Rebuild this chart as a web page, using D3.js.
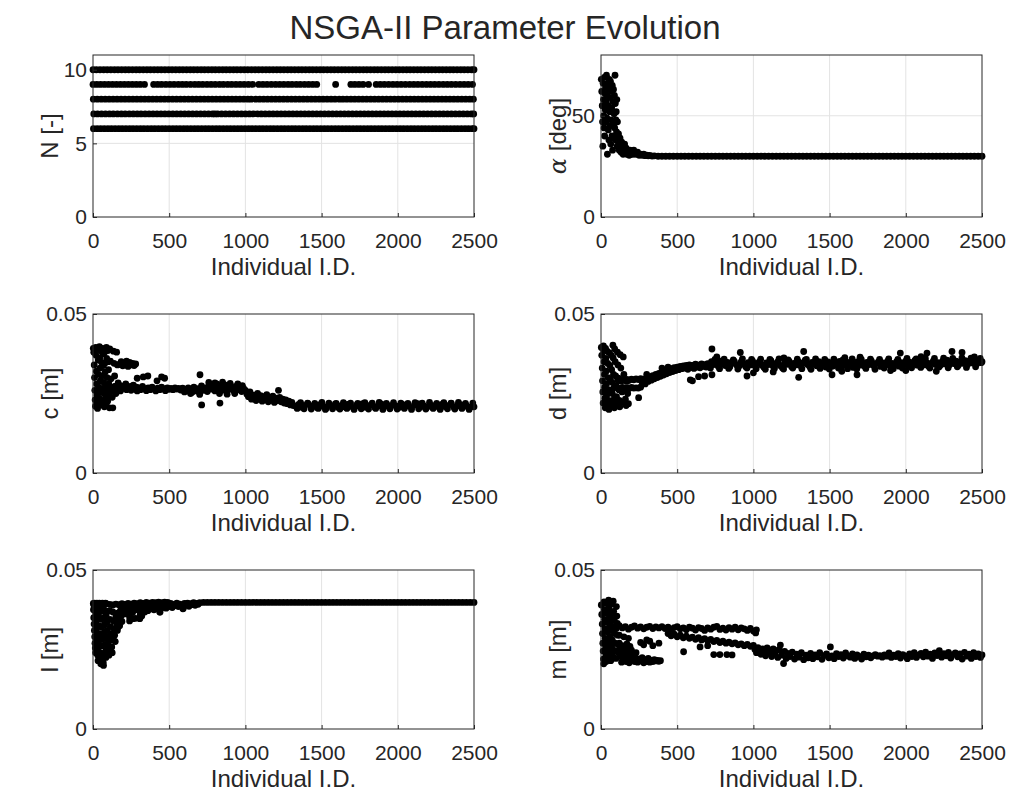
<!DOCTYPE html>
<html>
<head>
<meta charset="utf-8">
<script src="https://cdn.jsdelivr.net/npm/d3@7"></script>
<style>
body { margin: 0; background: #fff; }
svg { display: block; }
text { font-family: "Liberation Sans", Arial, sans-serif; fill: #262626; }
</style>
</head>
<body>
<div id="chart"></div>
<script>
// ejes comunes
const xTicks = [0, 500, 1000, 1500, 2000, 2500];
const nTicks = [0, 5, 10];
const alphaTicks = [0, 50];
const lenTicks = [0, 0.05];

// N [-]: individuos (I.D.) por nivel
const nLevel10 = [0,22,46,70,93,117,141,164,188,212,235,259,283,306,330,354,377,401,425,448,472,496,519,543,567,590,614,638,661,685,709,732,756,780,803,827,851,874,898,922,945,969,993,1016,1040,1064,1087,1111,1135,1158,1182,1206,1229,1253,1277,1300,1324,1348,1371,1395,1419,1442,1466,1490,1513,1537,1561,1584,1608,1632,1655,1679,1703,1726,1750,1774,1797,1821,1845,1868,1892,1916,1939,1963,1987,2010,2034,2058,2081,2105,2129,2152,2176,2200,2223,2247,2271,2294,2318,2342,2365,2389,2413,2436,2460,2484,2500];
const nLevel9 = [0,25,50,76,102,128,154,180,206,232,258,284,310,338,398,424,450,478,505,532,560,586,612,640,668,694,720,748,775,802,830,856,884,910,938,965,992,1020,1048,1088,1115,1142,1170,1198,1225,1252,1280,1306,1334,1360,1388,1415,1442,1468,1592,1692,1718,1745,1772,1808,1858,1885,1912,1940,1968,1995,2022,2050,2078,2105,2132,2160,2188,2215,2242,2270,2298,2325,2352,2380,2408,2435,2462,2490];
const nLevel8 = [2,28,54,80,106,132,158,184,210,236,262,288,314,340,366,392,418,444,470,496,522,548,574,600,626,652,678,704,730,756,782,808,834,860,886,912,938,964,990,1016,1038,1068,1094,1120,1146,1172,1198,1224,1250,1276,1302,1328,1354,1380,1406,1432,1458,1484,1510,1536,1562,1588,1616,1640,1666,1692,1718,1744,1770,1796,1822,1848,1874,1900,1926,1952,1978,2004,2030,2056,2082,2108,2134,2160,2186,2212,2238,2264,2290,2316,2342,2368,2394,2420,2446,2472,2496];
const nLevel7 = [5,30,56,82,108,133,160,186,211,238,264,290,315,342,368,394,420,446,472,498,524,550,576,602,628,654,680,706,732,758,784,800,818,844,870,896,922,948,974,1000,1026,1052,1078,1104,1130,1156,1182,1208,1234,1260,1286,1312,1338,1364,1390,1416,1442,1468,1494,1520,1546,1572,1598,1624,1650,1676,1702,1728,1754,1780,1806,1832,1858,1884,1910,1936,1962,1988,2014,2040,2066,2092,2118,2144,2170,2196,2222,2248,2274,2300,2326,2352,2378,2404,2430,2456,2482,2498];
const nLevel6 = [3,27,50,74,98,121,145,169,192,216,240,263,287,311,334,358,382,405,429,453,476,500,524,547,571,595,618,642,666,689,713,737,760,784,808,831,855,879,902,926,950,973,997,1021,1044,1068,1092,1115,1139,1163,1186,1210,1234,1257,1281,1305,1328,1352,1376,1399,1423,1447,1470,1494,1518,1541,1565,1589,1612,1636,1660,1683,1707,1731,1754,1778,1802,1825,1849,1873,1896,1920,1944,1967,1991,2015,2038,2062,2086,2109,2133,2157,2180,2204,2228,2251,2275,2299,2322,2346,2370,2393,2417,2441,2464,2488,2500];

// alpha [deg]
const alphaPts = [[2,68],[5,62],[8,55],[10,47],[12,35],[14,66],[16,58],[18,50],[20,44],[22,69],[24,40],[26,61],[28,53],[30,64],[32,47],[34,57],[36,70],[38,49],[40,60],[42,31],[44,66],[46,55],[48,43],[50,63],[52,38],[54,68],[56,52],[58,45],[60,59],[62,67],[64,36],[66,48],[68,62],[70,54],[72,40],[74,65],[76,33],[78,57],[80,46],[82,63],[84,39],[86,51],[88,60],[90,44],[92,70],[94,56],[96,38],[98,48],[100,52],[102,42],[104,58],[106,35],[108,47],[110,40],
[112,38],[115,41],[118,36],[120,33],[125,39],[128,35],[132,32],[136,37],[140,34],[145,31],[150,33],[155,36],[160,32],[165,34],[170,31],[175,33],[180,32],[185,30.5],[190,33],[195,31],[200,32],[210,31],[215,33],[220,31.5],[230,31],[240,32],[250,30.5],[260,31],[270,30.5],[280,31],[290,30.3],[300,30.6],[310,30.2],[320,30.4],[335,30.1],[350,30.2],
[375,30],[400,30],[425,30],[450,30],[475,30],[500,30],[525,30],[550,30],[575,30],[600,30],[625,30],[650,30],[675,30],[700,30],[725,30],[750,30],[775,30],[800,30],[825,30],[850,30],[875,30],[900,30],[925,30],[950,30],[975,30],[1000,30],[1025,30],[1050,30],[1075,30],[1100,30],[1125,30],[1150,30],[1175,30],[1200,30],[1225,30],[1250,30],[1275,30],[1300,30],[1325,30],[1350,30],[1375,30],[1400,30],[1425,30],[1450,30],[1475,30],[1500,30],[1525,30],[1550,30],[1575,30],[1600,30],[1625,30],[1650,30],[1675,30],[1700,30],[1725,30],[1750,30],[1775,30],[1800,30],[1825,30],[1850,30],[1875,30],[1900,30],[1925,30],[1950,30],[1975,30],[2000,30],[2025,30],[2050,30],[2075,30],[2100,30],[2125,30],[2150,30],[2175,30],[2200,30],[2225,30],[2250,30],[2275,30],[2300,30],[2325,30],[2350,30],[2375,30],[2400,30],[2425,30],[2450,30],[2475,30],[2500,30]];

// c [m]
const cPts = [[2,.0392],[5,.0380],[8,.0340],[10,.0300],[12,.0260],[14,.0230],[16,.0210],[18,.0395],[20,.0370],[22,.0320],[24,.0280],[26,.0245],[28,.0220],[30,.0203],[32,.0388],[34,.0355],[36,.0310],[38,.0270],[40,.0235],[42,.0397],[44,.0362],[46,.0330],[48,.0290],[50,.0255],[52,.0215],[54,.0384],[56,.0348],[58,.0305],[60,.0265],[62,.0228],[64,.0392],[66,.0375],[68,.0338],[70,.0285],[72,.0250],[74,.0208],[76,.0380],[78,.0345],[80,.0318],[82,.0275],[84,.0240],[86,.0212],[88,.0395],[90,.0360],[92,.0300],[94,.0262],[96,.0226],[98,.0385],[100,.0350],[102,.0325],[104,.0280],[106,.0243],[108,.0205],[110,.0390],[114,.0352],[118,.0296],[122,.0268],[126,.0238],[130,.0205],[134,.0383],[138,.0345],[142,.0305],[146,.0272],[150,.0250],[155,.0380],[160,.0340],[165,.0283],[170,.0262],[175,.0342],[180,.0275],[185,.0350],[190,.0268],[195,.0337],[200,.0345],[205,.0270],[210,.0340],[215,.0280],[220,.0352],[225,.0265],[230,.0335],[240,.0348],[245,.0272],[250,.0340],[260,.0345],[265,.0276],[270,.0338],[280,.0343],[285,.0270],
[95,.0268],[105,.0262],[115,.0270],[125,.0259],[135,.0265],[145,.0272],[160,.0263],[170,.0268],[180,.0258],[195,.0266],[210,.0271],[220,.0262],[235,.0267],[250,.0260],[262,.0270],[275,.0264],[290,.0258],[300,.0268],[312,.0262],[325,.0272],[338,.0265],[350,.0259],[362,.0268],[375,.0262],[388,.0270],[400,.0264],[412,.0258],[425,.0267],[438,.0262],[450,.0270],[462,.0265],[475,.0259],[488,.0268],[500,.0263],[512,.0266],[525,.0262],[538,.0268],[550,.0264],[562,.0266],[575,.0261],[588,.0267],[600,.0263],[612,.0258],[625,.0268],[638,.0262],[650,.0254],[662,.0270],[675,.0258],[688,.0265],[700,.0252],[712,.0274],[725,.0260],[738,.0268],[750,.0256],[762,.0278],[775,.0264],[788,.0272],[800,.0258],[812,.0280],[825,.0266],[838,.0274],[850,.0260],[862,.0278],[875,.0268],[888,.0262],[900,.0276],[912,.0265],[925,.0258],[938,.0272],[950,.0262],[962,.0270],[975,.0256],[988,.0266],[1000,.0260],
[290,.0298],[330,.0302],[360,.0305],[420,.0290],[450,.0302],[470,.0298],[702,.0309],[713,.0214],[833,.0220],[600,.0255],[640,.0250],[700,.0247],[760,.0285],[800,.0283],[850,.0286],[900,.0282],[950,.0280],[980,.0275],[830,.0250],[880,.0248],[930,.0250],
[1010,.0248],[1020,.0240],[1030,.0255],[1040,.0232],[1050,.0245],[1060,.0238],[1070,.0228],[1080,.0250],[1090,.0236],[1100,.0243],[1110,.0226],[1120,.0240],[1130,.0232],[1140,.0246],[1150,.0224],[1160,.0238],[1170,.0230],[1180,.0242],[1190,.0222],[1200,.0235],[1210,.0228],[1217,.0260],[1225,.0238],[1235,.0224],[1245,.0232],[1255,.0220],[1265,.0230],[1275,.0218],[1285,.0226],[1295,.0214],[1305,.0222],[1315,.0212],
[1330,.0210],[1350,.0216],[1370,.0207],[1390,.0212],[1410,.0218],[1430,.0208],[1450,.0213],[1470,.0206],[1490,.0215],[1510,.0210],[1530,.0204],[1550,.0214],[1570,.0209],[1590,.0217],[1610,.0206],[1630,.0212],[1650,.0208],[1670,.0216],[1690,.0210],[1710,.0205],[1730,.0213],[1750,.0209],[1770,.0218],[1790,.0207],[1810,.0212],[1830,.0215],[1850,.0206],[1870,.0211],[1890,.0217],[1910,.0208],[1930,.0213],[1950,.0205],[1970,.0215],[1990,.0210],[2010,.0207],[2030,.0216],[2050,.0209],[2070,.0212],[2090,.0205],[2110,.0214],[2130,.0218],[2150,.0208],[2170,.0211],[2190,.0206],[2210,.0215],[2230,.0210],[2250,.0213],[2270,.0207],[2290,.0216],[2310,.0209],[2330,.0212],[2350,.0219],[2370,.0206],[2390,.0211],[2410,.0215],[2430,.0208],[2450,.0212],[2470,.0206],[2490,.0210],[2500,.0208]];
const cTailEdge = [[1340,.0203],[1362,.0221],[1385,.0202],[1408,.0220],[1432,.0201],[1455,.0219],[1478,.0203],[1502,.0222],[1525,.0200],[1548,.0220],[1572,.0202],[1596,.0219],[1620,.0201],[1643,.0221],[1666,.0203],[1690,.0220],[1713,.0200],[1737,.0219],[1760,.0202],[1784,.0221],[1808,.0201],[1832,.0220],[1855,.0203],[1878,.0222],[1902,.0200],[1925,.0219],[1948,.0202],[1972,.0221],[1996,.0201],[2020,.0220],[2043,.0203],[2066,.0219],[2090,.0200],[2113,.0221],[2137,.0202],[2160,.0220],[2184,.0201],[2208,.0222],[2232,.0203],[2255,.0219],[2278,.0200],[2302,.0221],[2326,.0202],[2350,.0220],[2374,.0201],[2398,.0222],[2421,.0203],[2444,.0219],[2468,.0200],[2492,.0220]];

// d [m]
const dPts = [[2,.0395],[5,.0370],[8,.0330],[10,.0290],[12,.0255],[14,.0220],[16,.0400],[18,.0385],[20,.0350],[22,.0310],[24,.0270],[26,.0235],[28,.0205],[30,.0392],[32,.0360],[34,.0320],[36,.0280],[38,.0245],[40,.0212],[42,.0382],[44,.0345],[46,.0300],[48,.0262],[50,.0228],[52,.0200],[55,.0378],[58,.0338],[60,.0295],[62,.0258],[64,.0225],[66,.0208],[68,.0370],[70,.0325],[72,.0285],[74,.0250],[76,.0218],[78,.0402],[80,.0362],[82,.0310],[84,.0268],[86,.0232],[88,.0205],[90,.0390],[93,.0350],[96,.0305],[99,.0275],[102,.0240],[105,.0215],[108,.0380],[111,.0340],[114,.0298],[117,.0262],[120,.0228],[123,.0208],[126,.0372],[130,.0330],[134,.0290],[138,.0255],[142,.0222],[146,.0365],[150,.0310],[155,.0265],[160,.0232],[165,.0212],[170,.0288],[175,.0250],[180,.0218],
[110,.0292],[125,.0290],[140,.0293],[155,.0291],[170,.0294],[185,.0292],[200,.0295],[215,.0293],[230,.0296],[245,.0294],[260,.0297],[110,.0268],[125,.0266],[140,.0269],[155,.0267],[170,.0268],[185,.0266],[200,.0269],[215,.0267],[230,.0268],[245,.0267],[260,.0270],[247,.0237],
[270,.0285],[280,.0295],[290,.0280],[300,.0298],[310,.0288],[320,.0302],[330,.0292],[340,.0306],[350,.0296],[360,.0310],[370,.0300],[380,.0313],[390,.0304],[400,.0318],[410,.0308],[420,.0322],[430,.0312],[440,.0325],[450,.0316],[460,.0328],[470,.0319],[480,.0331],[490,.0322],[500,.0333],[510,.0325],[520,.0335],[530,.0328],[540,.0337],[550,.0330],[560,.0338],[570,.0326],[580,.0340],[590,.0332],[600,.0338],[610,.0329],[620,.0342],[630,.0333],[640,.0339],[650,.0331],[660,.0343],[670,.0335],[680,.0341],[690,.0333],[700,.0344],
[586,.0293],[600,.0290],[640,.0303],[680,.0305],[728,.0309],[728,.0390],[760,.0365],[300,.0310],[400,.0330],[440,.0333],
[710,.0336],[725,.0350],[740,.0341],[755,.0346],[770,.0335],[785,.0352],[800,.0343],[815,.0338],[830,.0348],[845,.0333],[860,.0345],[875,.0351],[890,.0340],[905,.0336],[920,.0349],[935,.0342],[950,.0334],[965,.0347],[980,.0340],[995,.0352],[1010,.0337],[1025,.0345],[1040,.0350],[1055,.0339],[1070,.0332],[1085,.0346],[1100,.0341],[1115,.0353],[1130,.0336],[1145,.0344],[1160,.0349],[1175,.0338],[1190,.0331],[1205,.0347],[1220,.0342],[1235,.0351],[1250,.0335],[1265,.0345],[1280,.0340],[1295,.0350],[1310,.0337],[1325,.0346],[1340,.0355],[1355,.0341],[1370,.0334],[1385,.0348],[1400,.0343],[1415,.0337],[1430,.0350],[1445,.0340],[1460,.0345],[1475,.0333],[1490,.0349],[1505,.0342],[1520,.0336],[1535,.0347],[1550,.0340],[1565,.0351],[1580,.0335],[1595,.0344],[1610,.0349],[1625,.0338],[1640,.0346],[1655,.0332],[1670,.0343],[1685,.0350],[1700,.0339],[1715,.0345],[1730,.0336],[1745,.0348],[1760,.0341],[1775,.0352],[1790,.0337],[1805,.0344],[1820,.0349],[1835,.0335],[1850,.0346],[1865,.0340],[1880,.0351],[1895,.0338],[1910,.0345],[1925,.0341],[1940,.0350],[1955,.0336],[1970,.0347],[1985,.0343],[2000,.0352],[2015,.0337],[2030,.0348],[2045,.0342],[2060,.0354],[2075,.0339],[2090,.0346],[2105,.0351],[2120,.0340],[2135,.0348],[2150,.0336],[2165,.0345],[2180,.0352],[2195,.0341],[2210,.0347],[2225,.0338],[2240,.0350],[2255,.0343],[2270,.0355],[2285,.0340],[2300,.0348],[2315,.0344],[2330,.0352],[2345,.0339],[2360,.0349],[2375,.0345],[2390,.0353],[2405,.0341],[2420,.0350],[2435,.0346],[2450,.0354],[2465,.0343],[2480,.0351],[2495,.0347],[2500,.0350],
[914,.0379],[958,.0305],[1297,.0301],[1330,.0382],[1516,.0309],[1680,.0309],[1964,.0377],[2139,.0377],[2303,.0382],[2369,.0379],[1000,.0315],[1130,.0318],[1580,.0320],[1900,.0322],[2000,.0322],[2200,.0320],[1200,.0362],[1600,.0363],[1700,.0364],[2100,.0366],[2450,.0365]];
const dTailEdge = [[718,.0330],[748,.0357],[778,.0328],[808,.0358],[838,.0329],[868,.0356],[898,.0327],[928,.0359],[958,.0330],[988,.0357],[1018,.0328],[1048,.0358],[1078,.0326],[1108,.0357],[1138,.0329],[1168,.0359],[1198,.0327],[1228,.0356],[1258,.0330],[1288,.0358],[1318,.0328],[1348,.0357],[1378,.0326],[1408,.0359],[1438,.0329],[1468,.0357],[1498,.0327],[1528,.0358],[1558,.0330],[1588,.0356],[1618,.0328],[1648,.0359],[1678,.0327],[1708,.0357],[1738,.0329],[1768,.0358],[1798,.0326],[1828,.0357],[1858,.0330],[1888,.0359],[1918,.0328],[1948,.0357],[1978,.0330],[2008,.0360],[2038,.0331],[2068,.0359],[2098,.0332],[2128,.0361],[2158,.0330],[2188,.0360],[2218,.0333],[2248,.0361],[2278,.0331],[2308,.0360],[2338,.0334],[2368,.0362],[2398,.0332],[2428,.0361],[2458,.0334],[2488,.0360]];

// l [m]
const lPts = [[2,.0395],[6,.0390],[10,.0396],[14,.0392],[18,.0395],[22,.0393],[26,.0396],[30,.0390],[34,.0395],[38,.0392],[42,.0396],[46,.0394],[50,.0390],[54,.0395],[58,.0392],[62,.0396],[66,.0393],[70,.0390],[74,.0395],[78,.0392],[82,.0396],[86,.0394],
[3,.0375],[5,.0350],[7,.0330],[9,.0310],[11,.0290],[13,.0270],[15,.0255],[17,.0240],[19,.0365],[21,.0340],[23,.0315],[25,.0295],[27,.0275],[29,.0250],[31,.0232],[33,.0215],[35,.0380],[37,.0355],[39,.0325],[41,.0300],[43,.0280],[45,.0260],[47,.0240],[49,.0222],[51,.0205],[53,.0370],[55,.0345],[57,.0320],[59,.0298],[61,.0282],[63,.0262],[65,.0235],[67,.0210],[69,.0200],[71,.0375],[73,.0350],[75,.0328],[77,.0305],[79,.0285],[81,.0265],[83,.0245],[85,.0225],[87,.0360],[90,.0335],[93,.0310],[96,.0290],[99,.0270],[102,.0250],[105,.0232],[108,.0372],[111,.0345],[114,.0322],[117,.0300],[120,.0280],[123,.0258],[126,.0240],[130,.0368],[134,.0340],[138,.0315],[142,.0295],[146,.0275],[150,.0352],[155,.0330],[160,.0310],[165,.0365],[170,.0345],[175,.0325],[180,.0372],[185,.0355],[190,.0338],[195,.0380],
[200,.0375],[210,.0362],[220,.0385],[230,.0370],[240,.0352],[250,.0380],[260,.0366],[270,.0388],[280,.0348],[290,.0375],[300,.0385],[310,.0360],[320,.0378],[330,.0390],[340,.0368],[350,.0382],[360,.0372],[370,.0388],[380,.0378],[390,.0392],[400,.0375],[410,.0386],[420,.0380],[430,.0392],[440,.0368],[450,.0388],[460,.0382],[470,.0394],[480,.0380],[490,.0390],[500,.0385],[510,.0395],[520,.0382],[530,.0392],[540,.0388],[550,.0396],[560,.0385],[570,.0393],[580,.0389],[590,.0378],[600,.0395],[610,.0390],[620,.0396],[630,.0386],[640,.0394],[650,.0391],[660,.0397],[670,.0389],[680,.0395],[690,.0392],[700,.0397],
[110,.0392],[130,.0390],[150,.0393],[170,.0391],[190,.0394],[210,.0392],[230,.0395],[250,.0393],[270,.0396],[290,.0394],[310,.0397],[330,.0395],[350,.0398],[370,.0396],[390,.0398],[410,.0397],[430,.0399],[450,.0397],[470,.0399],[490,.0398],
[88,.0230],[110,.0243],[132,.0285],[164,.0320],[263,.0347],[307,.0347],[438,.0368],[592,.0379],[240,.0340],[320,.0355],
[725,.0398],[750,.0398],[775,.0398],[800,.0398],[825,.0398],[850,.0398],[875,.0398],[900,.0398],[925,.0398],[950,.0398],[975,.0398],[1000,.0398],[1025,.0398],[1050,.0398],[1075,.0398],[1100,.0398],[1125,.0398],[1150,.0398],[1175,.0398],[1200,.0398],[1225,.0398],[1250,.0398],[1275,.0398],[1300,.0398],[1325,.0398],[1350,.0398],[1375,.0398],[1400,.0398],[1425,.0398],[1450,.0398],[1475,.0398],[1500,.0398],[1525,.0398],[1550,.0398],[1575,.0398],[1600,.0398],[1625,.0398],[1650,.0398],[1675,.0398],[1700,.0398],[1725,.0398],[1750,.0398],[1775,.0398],[1800,.0398],[1825,.0398],[1850,.0398],[1875,.0398],[1900,.0398],[1925,.0398],[1950,.0398],[1975,.0398],[2000,.0398],[2025,.0398],[2050,.0398],[2075,.0398],[2100,.0398],[2125,.0398],[2150,.0398],[2175,.0398],[2200,.0398],[2225,.0398],[2250,.0398],[2275,.0398],[2300,.0398],[2325,.0398],[2350,.0398],[2375,.0398],[2400,.0398],[2425,.0398],[2450,.0398],[2475,.0398],[2500,.0398]];

// m [m]
const mPts = [[2,.0390],[5,.0360],[8,.0330],[10,.0300],[12,.0270],[14,.0245],[16,.0220],[18,.0205],[20,.0400],[22,.0375],[24,.0345],[26,.0315],[28,.0285],[30,.0258],[32,.0232],[34,.0212],[36,.0395],[38,.0365],[40,.0335],[42,.0305],[44,.0275],[46,.0250],[48,.0225],[50,.0405],[52,.0380],[54,.0350],[56,.0320],[58,.0290],[60,.0262],[62,.0238],[64,.0215],[66,.0392],[68,.0362],[70,.0340],[72,.0310],[74,.0280],[76,.0252],[78,.0228],[80,.0402],[83,.0370],[86,.0345],[89,.0300],[92,.0270],[95,.0245],[98,.0222],[101,.0385],[104,.0355],[107,.0332],[110,.0295],[113,.0265],[116,.0240],
[120,.0270],[125,.0250],[130,.0228],[135,.0210],[140,.0262],[145,.0240],[150,.0218],[155,.0255],[160,.0232],[165,.0212],[170,.0268],[175,.0245],[180,.0225],[185,.0208],[190,.0260],[195,.0235],
[200,.0218],[210,.0228],[220,.0212],[230,.0222],[240,.0210],[250,.0220],[260,.0214],[270,.0224],[280,.0208],[290,.0218],[300,.0212],[310,.0222],[320,.0210],[330,.0216],[340,.0212],[350,.0218],[360,.0214],[370,.0216],[380,.0213],[390,.0215],
[200,.0248],[230,.0240],[260,.0272],[280,.0265],[300,.0280],[320,.0276],[340,.0262],[380,.0270],[150,.0290],[180,.0285],[120,.0295],
[60,.0310],[80,.0322],[100,.0316],[120,.0325],[140,.0318],[160,.0322],[180,.0314],[200,.0320],[220,.0324],[240,.0317],[260,.0321],[280,.0315],[300,.0320],[320,.0323],[340,.0316],[360,.0321],[380,.0318],[400,.0322],[420,.0316],[440,.0320],[460,.0313],[480,.0319],[500,.0322],[520,.0315],[540,.0318],[560,.0312],[580,.0320],[600,.0317],[620,.0311],[640,.0319],[660,.0316],[680,.0310],[700,.0318],[720,.0314],[740,.0320],[760,.0323],[780,.0313],[800,.0317],[820,.0311],[840,.0319],[860,.0314],[880,.0320],[900,.0312],[920,.0318],[940,.0315],[960,.0310],[980,.0316],[1000,.0308],[1015,.0302],[1020,.0312],
[440,.0300],[460,.0293],[480,.0298],[500,.0290],[520,.0295],[540,.0287],[560,.0292],[580,.0285],[600,.0289],[620,.0282],[640,.0287],[660,.0280],[680,.0284],[700,.0278],[720,.0282],[740,.0275],[760,.0279],[780,.0272],[800,.0276],[820,.0270],[840,.0273],[860,.0268],[880,.0271],[900,.0265],[920,.0268],[940,.0262],[960,.0266],[980,.0260],[1000,.0263],
[542,.0243],[740,.0234],[780,.0234],[826,.0234],[860,.0233],[650,.0258],[700,.0262],
[1010,.0250],[1020,.0240],[1030,.0256],[1040,.0245],[1050,.0235],[1060,.0252],[1070,.0242],[1080,.0230],[1090,.0255],[1100,.0238],[1110,.0248],[1120,.0228],[1130,.0252],[1140,.0236],[1150,.0246],[1160,.0225],[1170,.0250],[1177,.0264],[1185,.0232],[1198,.0206],[1205,.0244],[1215,.0222],[1225,.0238],[1240,.0228],[1255,.0242],[1270,.0220],[1285,.0235],[1300,.0226],[1315,.0240],[1330,.0218],[1345,.0232],[1360,.0224],[1375,.0238],[1390,.0221],[1405,.0233],[1420,.0227],[1435,.0240],[1450,.0219],[1465,.0231],[1480,.0236],[1495,.0224],[1505,.0258],[1515,.0230],[1530,.0221],[1545,.0237],[1560,.0228],[1575,.0234],[1590,.0223],[1605,.0239],[1620,.0230],[1635,.0226],[1650,.0236],[1665,.0222],[1680,.0233],[1695,.0228],[1710,.0220],[1725,.0235],[1740,.0227],[1755,.0232],[1770,.0224],[1785,.0230],[1800,.0234],[1815,.0229],[1830,.0231],[1845,.0226],[1860,.0233],[1875,.0229],[1890,.0239],[1905,.0225],[1920,.0232],[1935,.0228],[1950,.0237],[1965,.0223],[1980,.0234],[1995,.0230],[2010,.0221],[2025,.0236],[2040,.0228],[2055,.0240],[2070,.0225],[2085,.0233],[2100,.0238],[2115,.0227],[2130,.0242],[2145,.0229],[2160,.0235],[2175,.0222],[2190,.0239],[2205,.0231],[2220,.0246],[2235,.0226],[2250,.0237],[2265,.0230],[2280,.0241],[2295,.0223],[2310,.0234],[2325,.0239],[2340,.0227],[2355,.0236],[2370,.0220],[2385,.0241],[2400,.0229],[2415,.0235],[2430,.0222],[2445,.0240],[2460,.0228],[2475,.0236],[2490,.0225],[2500,.0233]];

const nPts = []
    .concat(nLevel10.map(id => [id, 10]))
    .concat(nLevel9.map(id => [id, 9]))
    .concat(nLevel8.map(id => [id, 8]))
    .concat(nLevel7.map(id => [id, 7]))
    .concat(nLevel6.map(id => [id, 6]));

const svg = d3.select("#chart").append("svg")
    .attr("width", 1010)
    .attr("height", 799);

svg.append("text")
    .attr("x", 505)
    .attr("y", 39)
    .attr("text-anchor", "middle")
    .style("font-size", "33px")
    .text("NSGA-II Parameter Evolution");

const cols = [{x0: 93, x1: 474}, {x0: 601, x1: 982}];
const rows = [{y0: 55, y1: 217}, {y0: 314, y1: 473}, {y0: 570, y1: 729}];

function dibujarPanel(col, row, yMax, yTicks, fmt, label, pts, greek) {
    const c = cols[col], r = rows[row];
    const x = d3.scaleLinear().domain([0, 2500]).range([c.x0, c.x1]);
    const y = d3.scaleLinear().domain([0, yMax]).range([r.y1, r.y0]);
    const g = svg.append("g");

    // rejilla
    g.selectAll(".gx").data(xTicks.slice(1, -1)).enter().append("line")
        .attr("x1", d => x(d)).attr("x2", d => x(d))
        .attr("y1", r.y0).attr("y2", r.y1)
        .attr("stroke", "#e3e3e3").attr("stroke-width", 1);
    g.selectAll(".gy").data(yTicks.filter(d => d > 0 && d < yMax)).enter().append("line")
        .attr("x1", c.x0).attr("x2", c.x1)
        .attr("y1", d => y(d)).attr("y2", d => y(d))
        .attr("stroke", "#e3e3e3").attr("stroke-width", 1);

    // puntos
    g.append("g").selectAll("circle")
        .data(pts)
        .enter()
        .append("circle")
        .attr("cx", d => x(d[0]))
        .attr("cy", d => y(d[1]))
        .attr("r", 3.4)
        .attr("fill", "#000");

    // ejes
    const ax = g.append("g")
        .attr("transform", `translate(0,${r.y1})`)
        .call(d3.axisBottom(x).tickValues(xTicks).tickSize(-4).tickPadding(16).tickFormat(d => d));
    const ay = g.append("g")
        .attr("transform", `translate(${c.x0},0)`)
        .call(d3.axisLeft(y).tickValues(yTicks).tickSize(-4).tickPadding(6).tickFormat(fmt));
    [ax, ay].forEach(a => {
        a.select(".domain").remove();
        a.selectAll("line").attr("stroke", "#262626");
        a.selectAll("text").style("font-size", "21px").attr("fill", "#262626")
            .style("font-family", '"Liberation Sans", Arial, sans-serif');
    });

    g.append("rect")
        .attr("x", c.x0).attr("y", r.y0)
        .attr("width", c.x1 - c.x0).attr("height", r.y1 - r.y0)
        .attr("fill", "none").attr("stroke", "#262626").attr("stroke-width", 1);

    g.append("text")
        .attr("x", (c.x0 + c.x1) / 2)
        .attr("y", r.y1 + 58)
        .attr("text-anchor", "middle")
        .style("font-size", "24px")
        .text("Individual I.D.");

    const yl = g.append("text")
        .attr("transform", `translate(${c.x0 - 35},${(r.y0 + r.y1) / 2}) rotate(-90)`)
        .attr("text-anchor", "middle")
        .style("font-size", "24px");
    if (greek) {
        yl.append("tspan").style("font-family", '"DejaVu Serif", serif').style("font-style", "italic").text(greek);
        yl.append("tspan").text(label);
    } else {
        yl.text(label);
    }
}

const fmtLen = d => d === 0 ? "0" : "0.05";
dibujarPanel(0, 0, 11, nTicks, d => d, "N [-]", nPts);
dibujarPanel(1, 0, 80, alphaTicks, d => d, " [deg]", alphaPts, "α");
dibujarPanel(0, 1, 0.05, lenTicks, fmtLen, "c [m]", cPts.concat(cTailEdge));
dibujarPanel(1, 1, 0.05, lenTicks, fmtLen, "d [m]", dPts.concat(dTailEdge));
dibujarPanel(0, 2, 0.05, lenTicks, fmtLen, "l [m]", lPts);
dibujarPanel(1, 2, 0.05, lenTicks, fmtLen, "m [m]", mPts);
</script>
</body>
</html>
